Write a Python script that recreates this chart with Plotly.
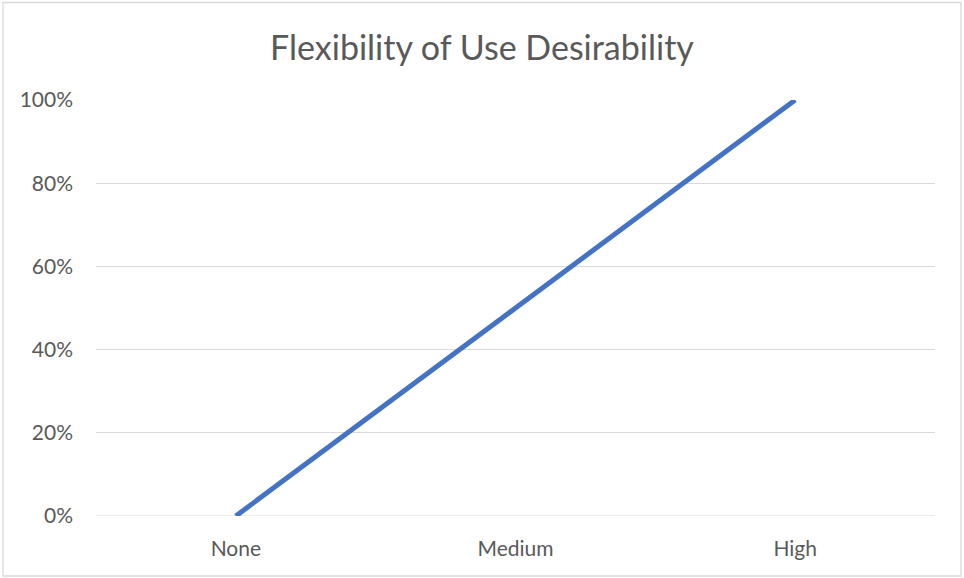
import plotly.graph_objects as go

# Desirability by level of flexibility
levels = ["None", "Medium", "High"]
desirability = [0, 50, 100]
y_ticks = [0, 20, 40, 60, 80, 100]
y_tick_labels = ["0%", "20%", "40%", "60%", "80%", "100%"]

fig = go.Figure()
fig.add_trace(go.Scatter(
    x=levels,
    y=desirability,
    mode="lines",
    line=dict(color="#4472C4", width=5),
    cliponaxis=False,
    hoverinfo="x+y",
))

W, H = 964, 578
L, R, T, B = 96, 29, 100, 62
pw, ph = W - L - R, H - T - B

fig.update_layout(
    width=W,
    height=H,
    margin=dict(l=L, r=R, t=T, b=B),
    paper_bgcolor="white",
    plot_bgcolor="white",
    showlegend=False,
    font=dict(family="Lato, Carlito, Calibri, sans-serif", color="#595959", size=21),
    title=dict(
        text="Flexibility of Use Desirability",
        x=0.5,
        xanchor="center",
        y=1 - 48 / H,
        yanchor="middle",
        font=dict(size=34, color="#595959"),
    ),
    xaxis=dict(
        type="category",
        range=[-0.5, 2.5],
        showgrid=False,
        showline=False,
        zeroline=False,
        ticks="",
        ticklabelstandoff=18,
        fixedrange=True,
    ),
    yaxis=dict(
        range=[0, 100],
        tickmode="array",
        tickvals=y_ticks,
        ticktext=y_tick_labels,
        showgrid=True,
        gridcolor="#D9D9D9",
        gridwidth=1,
        zeroline=False,
        showline=False,
        ticks="",
        ticklabelstandoff=22,
        fixedrange=True,
    ),
    shapes=[
        # baseline at 0% drawn as a gridline
        dict(type="line", xref="paper", yref="y", x0=0, x1=1, y0=0, y1=0,
             line=dict(color="#D9D9D9", width=1), layer="below"),
        # outer chart border
        dict(type="rect", xref="paper", yref="paper",
             x0=(3 - L) / pw, x1=(W - 3 - L) / pw,
             y0=-(H - 2 - T - ph) / ph, y1=1 + (T - 2.5) / ph,
             line=dict(color="#D9D9D9", width=1.3)),
    ],
)

fig.write_html("out.html")
